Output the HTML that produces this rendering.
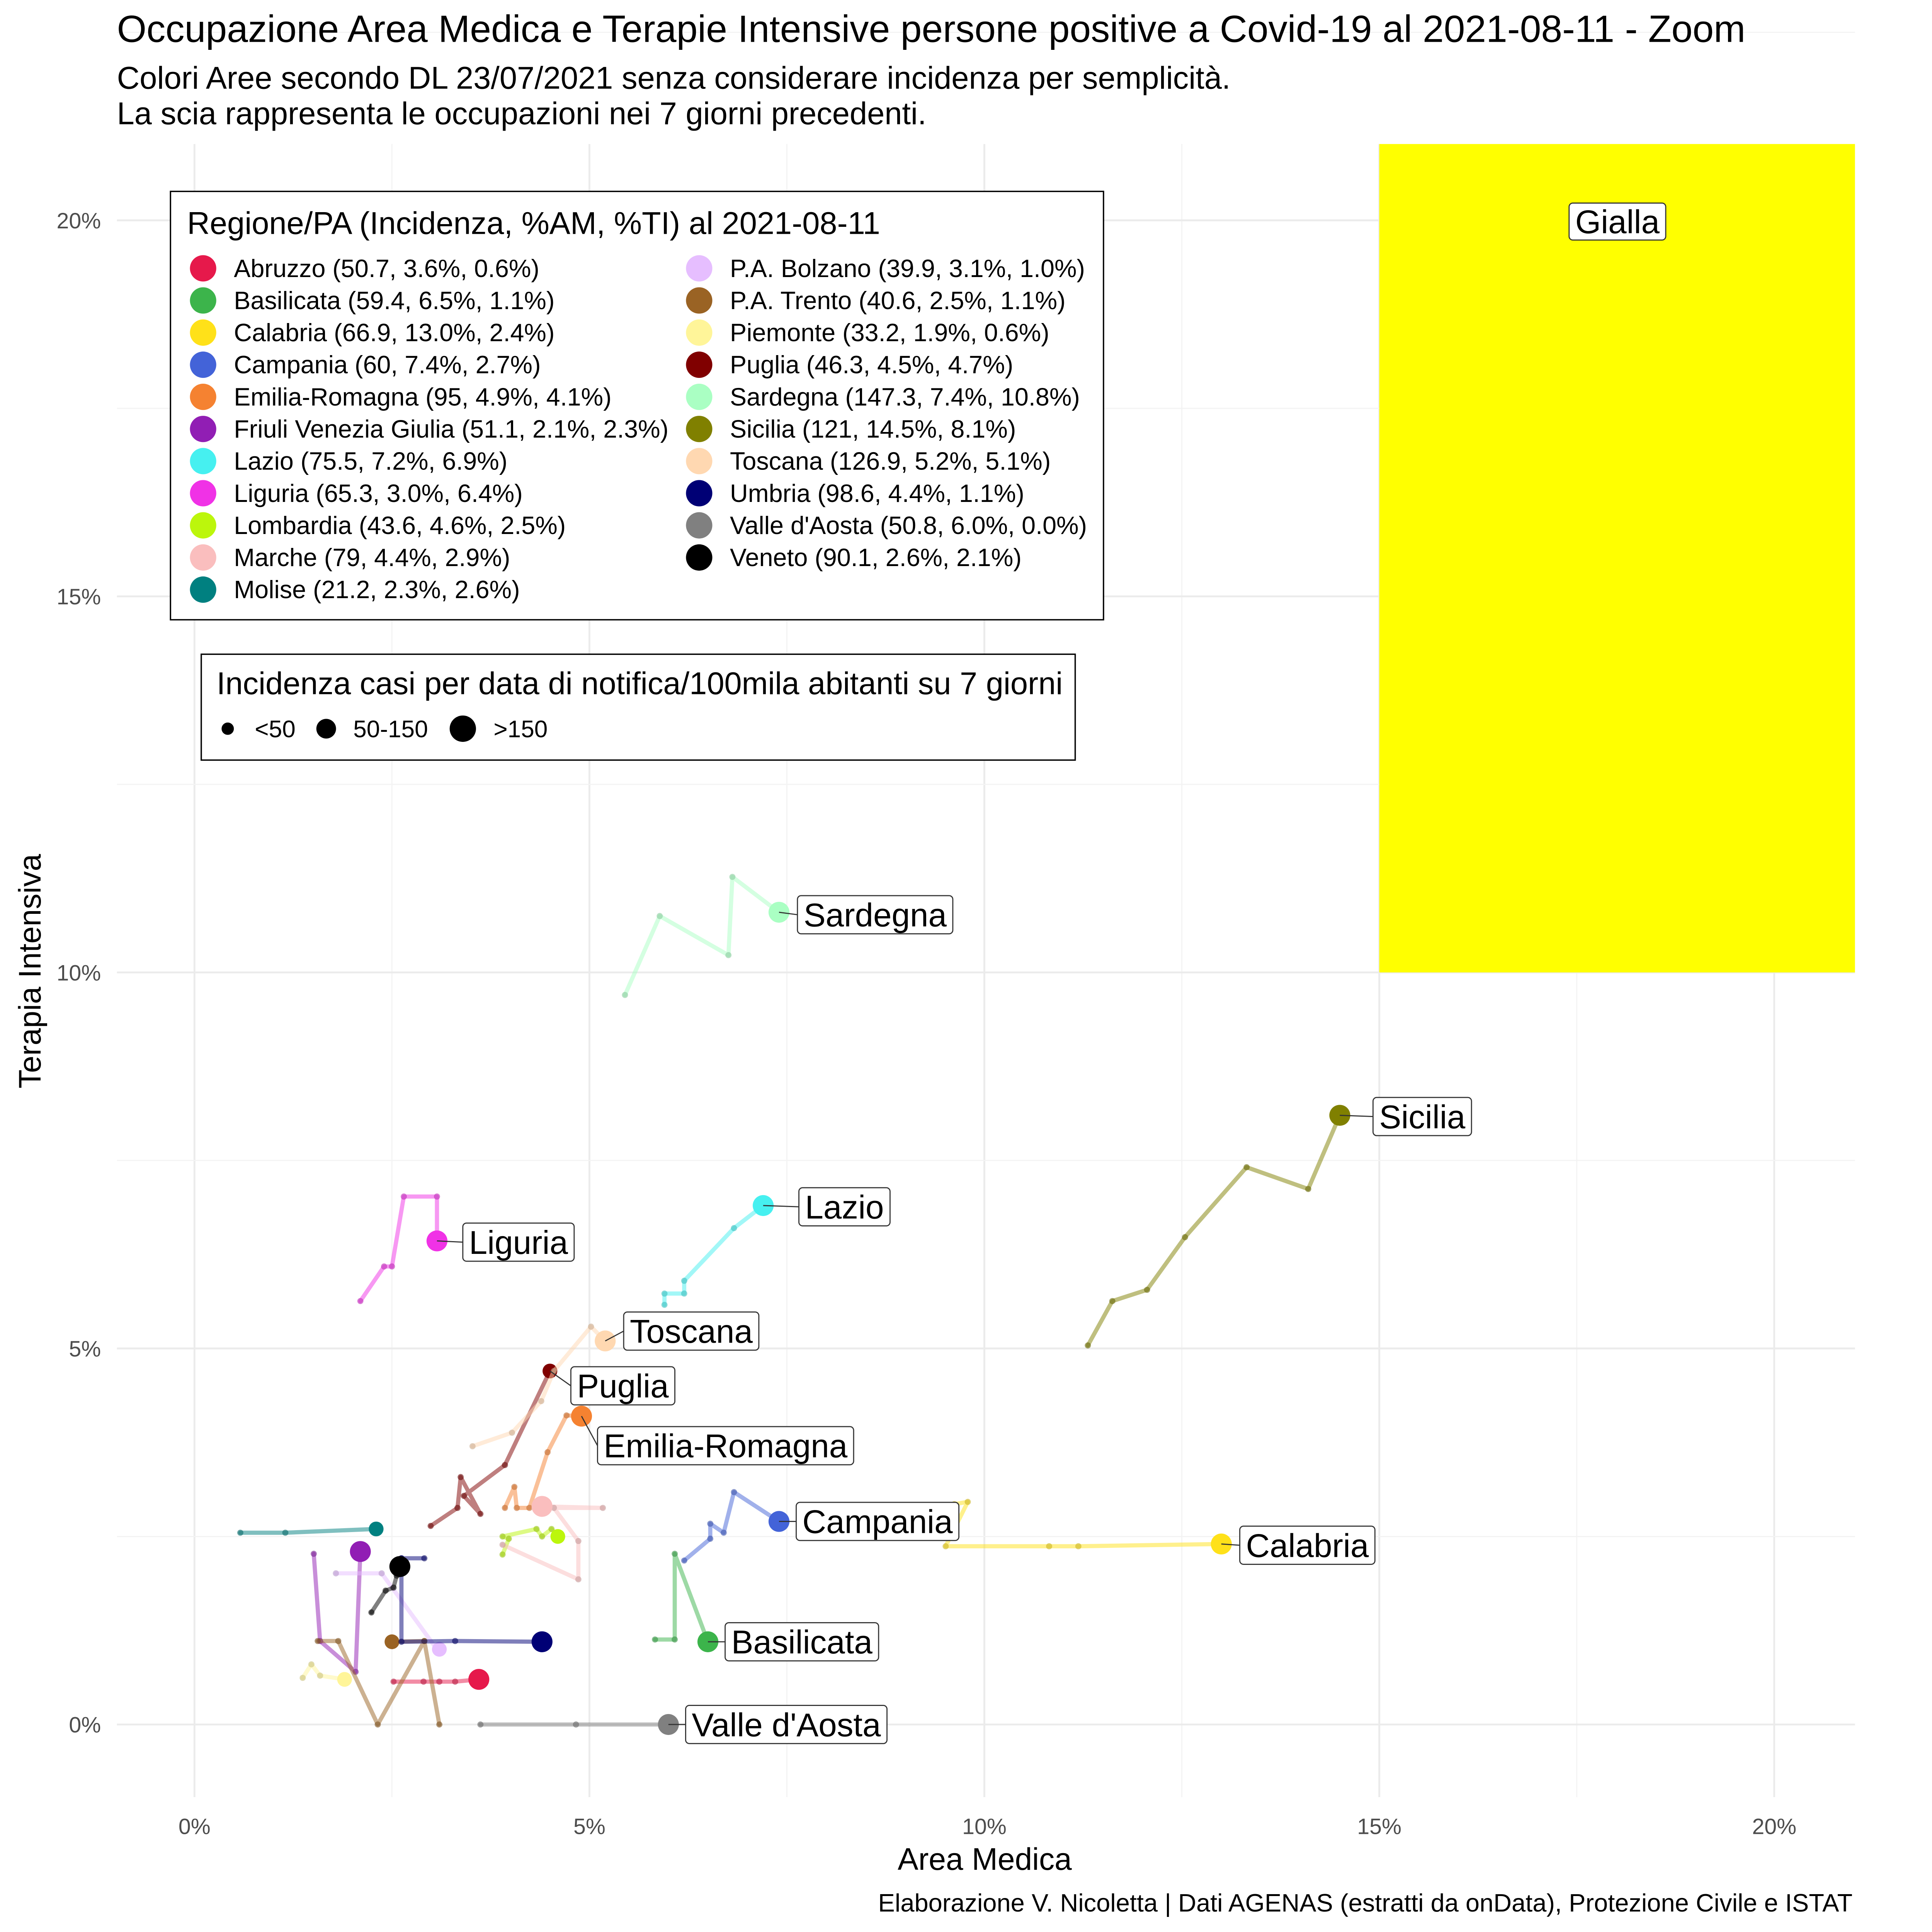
<!DOCTYPE html>
<html><head><meta charset="utf-8">
<style>
html,body{margin:0;padding:0;background:#fff;overflow:hidden}
svg{display:block}
text{font-family:"Liberation Sans",Arial,sans-serif}
</style></head><body>
<svg id="chart" xmlns="http://www.w3.org/2000/svg" width="5492" height="5669" viewBox="0 0 1523 1572" preserveAspectRatio="xMinYMin meet">
<rect x="0" y="0" width="1523" height="1572" fill="#fff"/>
<g id="root" transform="scale(0.8834)">
<rect x="0" y="0" width="1724" height="1780" fill="#fff"/>
<g id="grid"></g>
<g id="zone"></g>
<g id="trails"></g>
<g id="labels"></g>
<g id="axes"></g>
<text x="95" y="34" font-size="30.9" fill="#000">Occupazione Area Medica e Terapie Intensive persone positive a Covid-19 al 2021-08-11  - Zoom</text>
<text x="95" y="72" font-size="25.5" fill="#000">Colori Aree secondo DL 23/07/2021 senza considerare incidenza per semplicità.</text>
<text x="95" y="101" font-size="25.5" fill="#000">La scia rappresenta le occupazioni nei 7 giorni precedenti.</text>
<text x="800" y="1519" font-size="25.2" text-anchor="middle" fill="#000">Area Medica</text>
<text transform="translate(33,789) rotate(-90)" font-size="25.2" text-anchor="middle" fill="#000">Terapia Intensiva</text>
<text x="1505" y="1553" font-size="20.4" text-anchor="end" fill="#000">Elaborazione V. Nicoletta | Dati AGENAS (estratti da onData), Protezione Civile e ISTAT</text>
<g id="legend1">
<rect x="138.5" y="155.5" width="758" height="348" fill="#fff" stroke="#000" stroke-width="1.1"/>
<text x="152" y="190" font-size="25.5">Regione/PA (Incidenza, %AM, %TI) al 2021-08-11</text>
</g>
<g id="legend2">
<rect x="163.5" y="531.5" width="710" height="86" fill="#fff" stroke="#000" stroke-width="1.1"/>
<text x="176" y="564" font-size="25.5">Incidenza casi per data di notifica/100mila abitanti su 7 giorni</text>
<circle cx="185" cy="592" r="5" fill="#000"/>
<text x="207" y="599" font-size="19.5">&lt;50</text>
<circle cx="265" cy="592" r="8" fill="#000"/>
<text x="287" y="599" font-size="19.5">50-150</text>
<circle cx="376" cy="592" r="10.7" fill="#000"/>
<text x="401" y="599" font-size="19.5">&gt;150</text>
</g>
</g>
</svg>
<script>
const regions=["Abruzzo","Basilicata","Calabria","Campania","Emilia-Romagna","Friuli Venezia Giulia","Lazio","Liguria","Lombardia","Marche","Molise","P.A. Bolzano","P.A. Trento","Piemonte","Puglia","Sardegna","Sicilia","Toscana","Umbria","Valle d'Aosta","Veneto"];
const colors=["#e6194b","#3cb44b","#ffe119","#4363d8","#f58231","#911eb4","#46f0f0","#f032e6","#bcf60c","#fabebe","#008080","#e6beff","#9a6324","#fff599","#800000","#aaffc3","#808000","#ffd8b1","#000075","#808080","#000000"];
const incidence=["50.7","59.4","66.9","60","95","51.1","75.5","65.3","43.6","79","21.2","39.9","40.6","33.2","46.3","147.3","121","126.9","98.6","50.8","90.1"];
const amLabel=["3.6%","6.5%","13.0%","7.4%","4.9%","2.1%","7.2%","3.0%","4.6%","4.4%","2.3%","3.1%","2.5%","1.9%","4.5%","7.4%","14.5%","5.2%","4.4%","6.0%","2.6%"];
const tiLabel=["0.6%","1.1%","2.4%","2.7%","4.1%","2.3%","6.9%","6.4%","2.5%","2.9%","2.6%","1.0%","1.1%","0.6%","4.7%","10.8%","8.1%","5.1%","1.1%","0.0%","2.1%"];
// trails: x = %AM, y = %TI, last point = current day
const trailX=[
[2.52,2.9,3.1,3.3,3.6],
[5.83,6.08,6.08,6.5],
[9.62,9.79,9.51,10.82,11.19,13.0],
[6.2,6.53,6.53,6.7,6.83,7.4],
[3.93,4.05,4.08,4.24,4.47,4.71,4.9],
[1.51,1.59,2.04,2.1],
[5.95,5.95,6.2,6.2,6.83,7.2],
[2.1,2.4,2.5,2.65,3.07,3.07],
[3.9,3.98,3.9,4.33,4.4,4.52,4.6],
[3.9,4.86,4.86,4.55,5.17,4.4],
[0.58,1.15,2.3],
[1.79,2.37,3.07,3.1],
[1.56,1.82,2.32,2.91,3.1,2.91,2.5],
[1.37,1.48,1.59,1.9],
[2.99,3.33,3.37,3.62,3.41,3.93,4.5],
[5.45,5.89,6.76,6.81,7.4],
[11.31,11.62,12.06,12.54,13.32,14.1,14.5],
[3.52,4.02,4.39,4.55,5.02,5.2],
[2.62,2.91,2.62,2.62,3.3,4.4],
[3.62,4.83,6.0],
[2.24,2.42,2.52,2.56,2.6]];
const trailY=[
[0.57,0.57,0.57,0.57,0.6],
[1.13,1.13,2.27,1.1],
[2.93,2.96,2.37,2.37,2.37,2.4],
[2.18,2.47,2.67,2.55,3.09,2.7],
[2.88,3.16,2.88,2.88,3.62,4.11,4.1],
[2.27,1.11,0.7,2.3],
[5.58,5.73,5.73,5.9,6.6,6.9],
[5.63,6.09,6.09,7.02,7.02,6.43],
[2.26,2.47,2.5,2.6,2.5,2.6,2.5],
[2.39,1.93,2.44,2.88,2.88,2.9],
[2.55,2.55,2.6],
[2.01,2.01,1.0,1.0],
[1.11,1.11,0.0,1.11,0.0,1.11,1.1],
[0.62,0.8,0.65,0.6],
[2.64,2.88,3.29,2.8,3.04,3.45,4.7],
[9.7,10.75,10.23,11.27,10.8],
[5.04,5.63,5.78,6.48,7.41,7.12,8.1],
[3.70,3.88,4.30,4.70,5.29,5.1],
[2.21,2.21,2.21,1.1,1.11,1.1],
[0,0,0],
[1.49,1.78,1.82,1.98,2.1]];
const labelled=["Sardegna","Sicilia","Lazio","Liguria","Toscana","Puglia","Emilia-Romagna","Campania","Calabria","Basilicata","Valle d'Aosta"];
const xTicks=[0,5,10,15,20];
const yTicks=[0,5,10,15,20];
const zoneName="Gialla";
const zoneXmin=15, zoneYmin=10;

const NS="http://www.w3.org/2000/svg";
const X0=158,XS=64.17,Y0=1401,YS=61.1,L=95,R=1507,T=117,B=1460;
const sx=v=>X0+v*XS, sy=v=>Y0-v*YS;
function mk(tag,attrs,parent){const e=document.createElementNS(NS,tag);for(const k in attrs)e.setAttribute(k,attrs[k]);parent.appendChild(e);return e;}
const grid=document.getElementById('grid');
for(let i=0;i<xTicks.length;i++){
  const v=xTicks[i];
  const g=mk('line',{x1:sx(v),x2:sx(v),y1:T,y2:B,stroke:'#ebebeb','stroke-width':1.5},grid);
  
  
  const m=mk('line',{x1:sx(v+2.5),x2:sx(v+2.5),y1:T,y2:B,stroke:'#f3f3f3','stroke-width':0.9},grid);
  
  
  const t=mk('text',{x:sx(v),y:1490,'font-size':18,'text-anchor':'middle',fill:'#4d4d4d'},document.getElementById('axes'));
  t.textContent=v+'%';
  
  
}
for(let i=0;i<yTicks.length;i++){
  const v=yTicks[i];
  const g=mk('line',{x1:L,x2:R,y1:sy(v),y2:sy(v),stroke:'#ebebeb','stroke-width':1.5},grid);
  
  
  const m=mk('line',{x1:L,x2:R,y1:sy(v+2.5),y2:sy(v+2.5),stroke:'#f3f3f3','stroke-width':0.9},grid);
  
  
  const t=mk('text',{x:82,y:sy(v)+6.5,'font-size':18,'text-anchor':'end',fill:'#4d4d4d'},document.getElementById('axes'));
  t.textContent=v+'%';
  
  
}
const zone=document.getElementById('zone');
const zr=mk('rect',{x:sx(zoneXmin),y:T,width:R-sx(zoneXmin),height:sy(zoneYmin)-T,fill:'#ffff00'},zone);


const zt=mk('text',{x:1314,y:189.5,'font-size':26.8,'text-anchor':'middle'},zone);
zt.textContent=zoneName;


const zw=zt.getComputedTextLength();
const zb=mk('rect',{x:1314-zw/2-5,y:165,width:zw+10,height:30,rx:3,fill:'#fff',stroke:'#333','stroke-width':0.9},zone);


zone.insertBefore(zb,zt);

const trails=document.getElementById('trails');
const labels=document.getElementById('labels');
const lblOff={"Sardegna":[15,2],"Sicilia":[27,1],"Lazio":[29,1],"Liguria":[21,1],"Toscana":[15,-8],"Puglia":[17,12],"Emilia-Romagna":[13,24],"Campania":[14,0],"Calabria":[15,1],"Basilicata":[14,0],"Valle d'Aosta":[14,0]};
function radius(inc){return inc<50?6:(inc>150?10.7:8.5);}
regions.forEach((r,i)=>{
  const xs=trailX[i],ys=trailY[i],c=colors[i];
  const g=mk('g',{},trails);
  
  
  const pts=xs.map((x,k)=>sx(x)+','+sy(ys[k])).join(' ');
  const pl=mk('polyline',{points:pts,fill:'none',stroke:c,'stroke-opacity':0.5,'stroke-width':3.4,'stroke-linejoin':'round','stroke-linecap':'round'},g);
  
  
  for(let k=0;k<xs.length-1;k++){
    const d=mk('circle',{cx:sx(xs[k]),cy:sy(ys[k]),r:2.5,fill:c,'fill-opacity':0.5},g);
    
    
    const d2=mk('circle',{cx:sx(xs[k]),cy:sy(ys[k]),r:2.5,fill:'#000','fill-opacity':0.12},g);
    
    
  }
  const n=xs.length-1;
  const p=mk('circle',{cx:sx(xs[n]),cy:sy(ys[n]),r:radius(parseFloat(incidence[i])),fill:c},g);
  
  
  if(labelled.includes(r)){
    const o=lblOff[r];const px=sx(xs[n]),py=sy(ys[n]);
    const bx=px+o[0],cy=py+o[1];
    const ln=mk('line',{x1:px,y1:py,x2:bx,y2:cy,stroke:'#333','stroke-width':0.9},labels);
    
    
    const t=mk('text',{x:bx+5,y:cy+9.5,'font-size':26.8},labels);
    t.textContent=r;
    
    
    const w=t.getComputedTextLength();
    const b=mk('rect',{x:bx,y:cy-15.5,width:w+10,height:31,rx:3,fill:'#fff',stroke:'#333','stroke-width':0.9},labels);
    
    
    labels.insertBefore(b,t);
  }
});
const lg=document.getElementById('legend1');
regions.forEach((r,i)=>{
  const col=i<11?0:1,row=i<11?i:i-11;
  const cx=col?568:165,ty=218+row*26.1;
  const c=mk('circle',{cx:cx,cy:ty,r:10.7,fill:colors[i]},lg);
  
  
  const t=mk('text',{x:cx+25,y:ty+7,'font-size':20.3},lg);
  t.textContent=r+' ('+incidence[i]+', '+amLabel[i]+', '+tiLabel[i]+')';
  
  
});
</script>
</body></html>
